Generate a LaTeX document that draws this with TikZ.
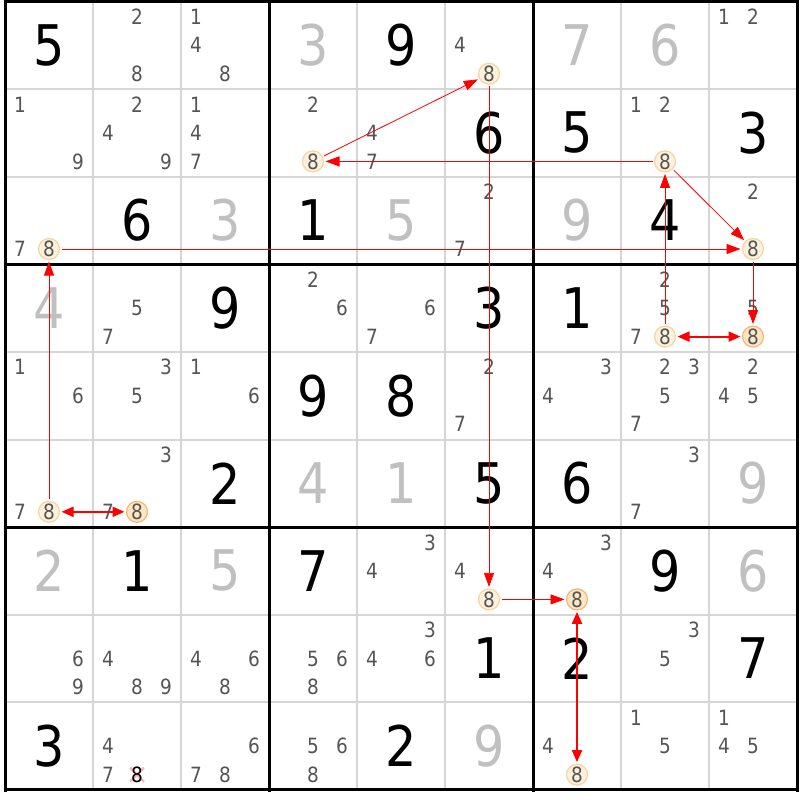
\documentclass[tikz,border=0pt]{standalone}
\usepackage{fontspec}
\setmainfont{DejaVu Sans}[FakeStretch=0.88]
\usetikzlibrary{arrows.meta}
\definecolor{solvedgray}{HTML}{C0C0C0}
\definecolor{candgray}{HTML}{555555}
\definecolor{gridgray}{HTML}{D6D6D6}
\definecolor{hlfill}{HTML}{FDF0DC}
\definecolor{hlborder}{HTML}{F8D4A0}
\definecolor{hlfillb}{HTML}{FCE6C4}
\definecolor{hlborderb}{HTML}{F4B870}
\definecolor{elimpink}{HTML}{F4A0A8}
\newcommand\putcands[3]{%
  \foreach \d in {#3}{%
    \pgfmathsetmacro\cx{49+88*(#2-1)+29*(mod(\d-1,3)-1)}%
    \pgfmathsetmacro\cy{45.3+87.6*(#1-1)+28.5*(floor((\d-1)/3)-1)}%
    \node[cand] (k#1#2\d) at (\cx,\cy) {\d};}}
\newcommand\putbig[4]{%
  \node[#4] (g#1#2) at ({49+88*(#2-1)},{45.3+87.6*(#1-1)}) {#3};}
\newcommand\puthl[3]{%
  \node[cand,#3] (h#1#2) at ({49+88*(#2-1)},{45.3+87.6*(#1-1)+28.5}) {8};}
\begin{document}
\begin{tikzpicture}[x=1pt,y=-1pt,
  given/.style={font=\fontsize{56}{56}\selectfont, text=black, inner sep=0pt},
  solved/.style={given, text=solvedgray},
  cand/.style={font=\fontsize{21}{21}\selectfont, text=candgray, inner sep=0pt},
  hl/.style={circle, draw=hlborder, fill=hlfill, line width=1.2pt, minimum size=21pt, inner sep=0pt, outer sep=2pt},
  hlb/.style={hl, draw=hlborderb, fill=hlfillb},
  lnk/.style={draw=red, line width=0.8pt, -{Triangle[length=14pt,width=10pt]}},
  strong/.style={draw=red, line width=2pt, {Triangle[length=12pt,width=10pt]}-{Triangle[length=12pt,width=10pt]}},
  thin/.style={draw=gridgray, line width=2pt},
  thick/.style={draw=black, line width=3pt}
]
\useasboundingbox (0,0) rectangle (800,800);
\fill[white] (0,0) rectangle (800,800);
% grid
\foreach \i in {1,2,4,5,7,8}{
  \draw[thin] ({5+88*\i},1.5) -- ({5+88*\i},790);
  \draw[thin] (5,{1.5+87.6*\i}) -- (797,{1.5+87.6*\i});
}
\foreach \i in {0,3,6,9}{
  \draw[thick] ({5+88*\i},0) -- ({5+88*\i},791.5);
  \draw[thick] (3.5,{1.5+87.6*\i}) -- (798.5,{1.5+87.6*\i});
}
% row 1
\putbig{1}{1}{5}{given}
\putcands{1}{2}{2,8}
\putcands{1}{3}{1,4,8}
\putbig{1}{4}{3}{solved}
\putbig{1}{5}{9}{given}
\putcands{1}{6}{4}
\puthl{1}{6}{hl}
\putbig{1}{7}{7}{solved}
\putbig{1}{8}{6}{solved}
\putcands{1}{9}{1,2}
% row 2
\putcands{2}{1}{1,9}
\putcands{2}{2}{2,4,9}
\putcands{2}{3}{1,4,7}
\putcands{2}{4}{2}
\puthl{2}{4}{hl}
\putcands{2}{5}{4,7}
\putbig{2}{6}{6}{given}
\putbig{2}{7}{5}{given}
\putcands{2}{8}{1,2}
\puthl{2}{8}{hl}
\putbig{2}{9}{3}{given}
% row 3
\putcands{3}{1}{7}
\puthl{3}{1}{hl}
\putbig{3}{2}{6}{given}
\putbig{3}{3}{3}{solved}
\putbig{3}{4}{1}{given}
\putbig{3}{5}{5}{solved}
\putcands{3}{6}{2,7}
\putbig{3}{7}{9}{solved}
\putbig{3}{8}{4}{given}
\putcands{3}{9}{2}
\puthl{3}{9}{hl}
% row 4
\putbig{4}{1}{4}{solved}
\putcands{4}{2}{5,7}
\putbig{4}{3}{9}{given}
\putcands{4}{4}{2,6}
\putcands{4}{5}{6,7}
\putbig{4}{6}{3}{given}
\putbig{4}{7}{1}{given}
\putcands{4}{8}{2,5,7}
\puthl{4}{8}{hl}
\putcands{4}{9}{5}
\puthl{4}{9}{hlb}
% row 5
\putcands{5}{1}{1,6}
\putcands{5}{2}{3,5}
\putcands{5}{3}{1,6}
\putbig{5}{4}{9}{given}
\putbig{5}{5}{8}{given}
\putcands{5}{6}{2,7}
\putcands{5}{7}{3,4}
\putcands{5}{8}{2,3,5,7}
\putcands{5}{9}{2,4,5}
% row 6
\putcands{6}{1}{7}
\puthl{6}{1}{hl}
\putcands{6}{2}{3,7}
\puthl{6}{2}{hlb}
\putbig{6}{3}{2}{given}
\putbig{6}{4}{4}{solved}
\putbig{6}{5}{1}{solved}
\putbig{6}{6}{5}{given}
\putbig{6}{7}{6}{given}
\putcands{6}{8}{3,7}
\putbig{6}{9}{9}{solved}
% row 7
\putbig{7}{1}{2}{solved}
\putbig{7}{2}{1}{given}
\putbig{7}{3}{5}{solved}
\putbig{7}{4}{7}{given}
\putcands{7}{5}{3,4}
\putcands{7}{6}{4}
\puthl{7}{6}{hl}
\putcands{7}{7}{3,4}
\puthl{7}{7}{hlb}
\putbig{7}{8}{9}{given}
\putbig{7}{9}{6}{solved}
% row 8
\putcands{8}{1}{6,9}
\putcands{8}{2}{4,8,9}
\putcands{8}{3}{4,6,8}
\putcands{8}{4}{5,6,8}
\putcands{8}{5}{3,4,6}
\putbig{8}{6}{1}{given}
\putbig{8}{7}{2}{given}
\putcands{8}{8}{3,5}
\putbig{8}{9}{7}{given}
% row 9
\putbig{9}{1}{3}{given}
\putcands{9}{2}{4,7}
\coordinate (x92) at ({49+88},{45.3+87.6*8+28.5});
\draw[elimpink, line width=2pt, opacity=0.8] ([shift={(-7,-7)}]x92) -- ([shift={(7,7)}]x92);
\draw[elimpink, line width=2pt, opacity=0.8] ([shift={(-7,7)}]x92) -- ([shift={(7,-7)}]x92);
\node[cand, text=black] (e92) at (x92) {8};
\putcands{9}{3}{6,7,8}
\putcands{9}{4}{5,6,8}
\putbig{9}{5}{2}{given}
\putbig{9}{6}{9}{solved}
\putcands{9}{7}{4}
\puthl{9}{7}{hl}
\putcands{9}{8}{1,5}
\putcands{9}{9}{1,4,5}
% links
\draw[lnk] (h24) -- (h16);
\draw[lnk] (h28) -- (h24);
\draw[lnk] (h16) -- (h76);
\draw[lnk] (h31) -- (h39);
\draw[lnk] (h28) -- (h39);
\draw[lnk] (h48) -- (h28);
\draw[lnk] (h39) -- (h49);
\draw[lnk] (h61) -- (h31);
\draw[lnk] (h76) -- (h77);
\draw[strong] (h48) -- (h49);
\draw[strong] (h61) -- (h62);
\draw[strong] (h77) -- (h97);
\end{tikzpicture}
\end{document}
